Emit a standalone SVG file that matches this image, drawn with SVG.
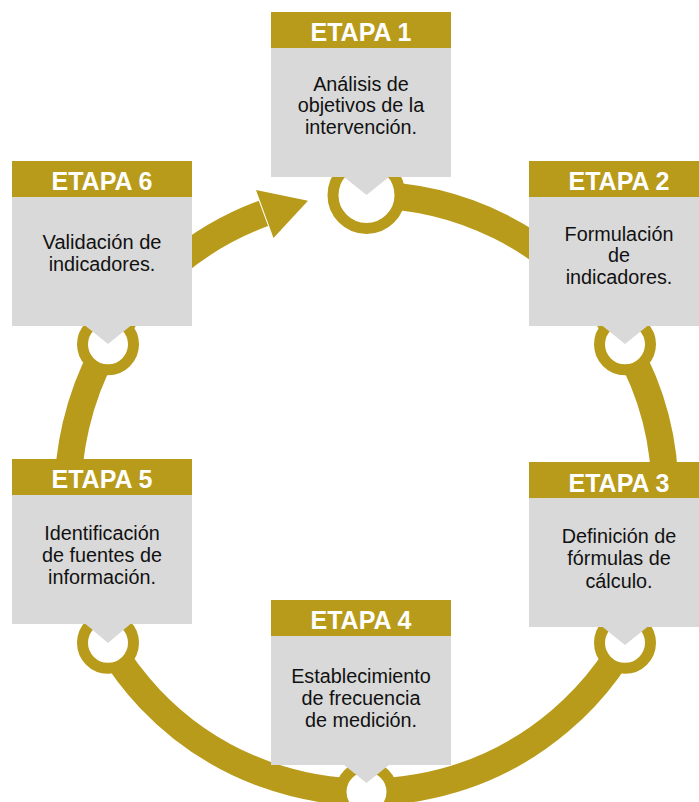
<svg xmlns="http://www.w3.org/2000/svg" width="699" height="802" viewBox="0 0 699 802">
<style>
.ring{fill:none;stroke:#B89B1A;stroke-width:27;stroke-linecap:butt}
.gold{fill:#B89B1A}
.node-circle{fill:#FFFFFF;stroke:#B89B1A;stroke-width:11}
.hdr{fill:#B89B1A}
.body{fill:#D9D9D9}
.ht{font-family:"Liberation Sans",Arial,sans-serif;font-weight:bold;font-size:25px;fill:#FFFFFF;text-anchor:middle}
.bt{font-family:"Liberation Sans",Arial,sans-serif;font-size:20px;fill:#111111;text-anchor:middle}
</style>
<rect width="699" height="802" fill="#FFFFFF"/>
<g id="connectors">
<path class="ring" d="M366.5 195 A298.5 298.5 0 1 1 263.4 213.4"/>
<polygon class="gold" points="256,190 273.5,237.9 308,200.8"/>
</g>
<g id="circles">
<circle class="node-circle" cx="366.5" cy="195" r="33.5"/>
<circle class="node-circle" cx="625" cy="344.3" r="25.5"/>
<circle class="node-circle" cx="625" cy="642.8" r="25.5"/>
<circle class="node-circle" cx="366.5" cy="792" r="25.5"/>
<circle class="node-circle" cx="108" cy="642.8" r="25.5"/>
<circle class="node-circle" cx="108" cy="344.3" r="25.5"/>
</g>
<g id="n1">
<rect class="hdr" x="271" y="12" width="180" height="36"/>
<rect class="body" x="271" y="48" width="180" height="129"/>
<polygon class="body" points="343.5,176.5 389.5,176.5 366.5,195"/>
<text class="ht" x="361" y="41">ETAPA 1</text>
<text class="bt" x="361" y="90.5" textLength="95.7" lengthAdjust="spacingAndGlyphs">Análisis de</text>
<text class="bt" x="361" y="112" textLength="126.6" lengthAdjust="spacingAndGlyphs">objetivos de la</text>
<text class="bt" x="361" y="133.5" textLength="112.2" lengthAdjust="spacingAndGlyphs">intervención.</text>
</g>
<g id="n2">
<rect class="hdr" x="529" y="161" width="180" height="36"/>
<rect class="body" x="529" y="197" width="180" height="129"/>
<polygon class="body" points="602,325.5 648,325.5 625,344"/>
<text class="ht" x="619" y="190">ETAPA 2</text>
<text class="bt" x="619" y="240.5" textLength="108.9" lengthAdjust="spacingAndGlyphs">Formulación</text>
<text class="bt" x="619" y="262" textLength="22" lengthAdjust="spacingAndGlyphs">de</text>
<text class="bt" x="619" y="283.5" textLength="106.7" lengthAdjust="spacingAndGlyphs">indicadores.</text>
</g>
<g id="n3">
<rect class="hdr" x="529" y="462" width="180" height="36"/>
<rect class="body" x="529" y="498" width="180" height="129"/>
<polygon class="body" points="602,626.5 648,626.5 625,645"/>
<text class="ht" x="619" y="491.5">ETAPA 3</text>
<text class="bt" x="619" y="543" textLength="114.4" lengthAdjust="spacingAndGlyphs">Definición de</text>
<text class="bt" x="619" y="565" textLength="103.4" lengthAdjust="spacingAndGlyphs">fórmulas de</text>
<text class="bt" x="619" y="587.5" textLength="67.1" lengthAdjust="spacingAndGlyphs">cálculo.</text>
</g>
<g id="n4">
<rect class="hdr" x="271" y="600" width="180" height="36"/>
<rect class="body" x="271" y="636" width="180" height="129"/>
<polygon class="body" points="343.5,764.5 389.5,764.5 366.5,783"/>
<text class="ht" x="361" y="629">ETAPA 4</text>
<text class="bt" x="361" y="683" textLength="139.7" lengthAdjust="spacingAndGlyphs">Establecimiento</text>
<text class="bt" x="361" y="705" textLength="118.9" lengthAdjust="spacingAndGlyphs">de frecuencia</text>
<text class="bt" x="361" y="727" textLength="112.2" lengthAdjust="spacingAndGlyphs">de medición.</text>
</g>
<g id="n5">
<rect class="hdr" x="12" y="459" width="180" height="36"/>
<rect class="body" x="12" y="495" width="180" height="129"/>
<polygon class="body" points="85,623.5 131,623.5 108,643"/>
<text class="ht" x="102" y="488">ETAPA 5</text>
<text class="bt" x="102" y="540" textLength="115.6" lengthAdjust="spacingAndGlyphs">Identificación</text>
<text class="bt" x="102" y="562" textLength="120" lengthAdjust="spacingAndGlyphs">de fuentes de</text>
<text class="bt" x="102" y="584" textLength="107.8" lengthAdjust="spacingAndGlyphs">información.</text>
</g>
<g id="n6">
<rect class="hdr" x="12" y="161" width="180" height="36"/>
<rect class="body" x="12" y="197" width="180" height="129"/>
<polygon class="body" points="85,325.5 131,325.5 108,344"/>
<text class="ht" x="102" y="190">ETAPA 6</text>
<text class="bt" x="102" y="249" textLength="118.9" lengthAdjust="spacingAndGlyphs">Validación de</text>
<text class="bt" x="102" y="271" textLength="106.7" lengthAdjust="spacingAndGlyphs">indicadores.</text>
</g>
</svg>
